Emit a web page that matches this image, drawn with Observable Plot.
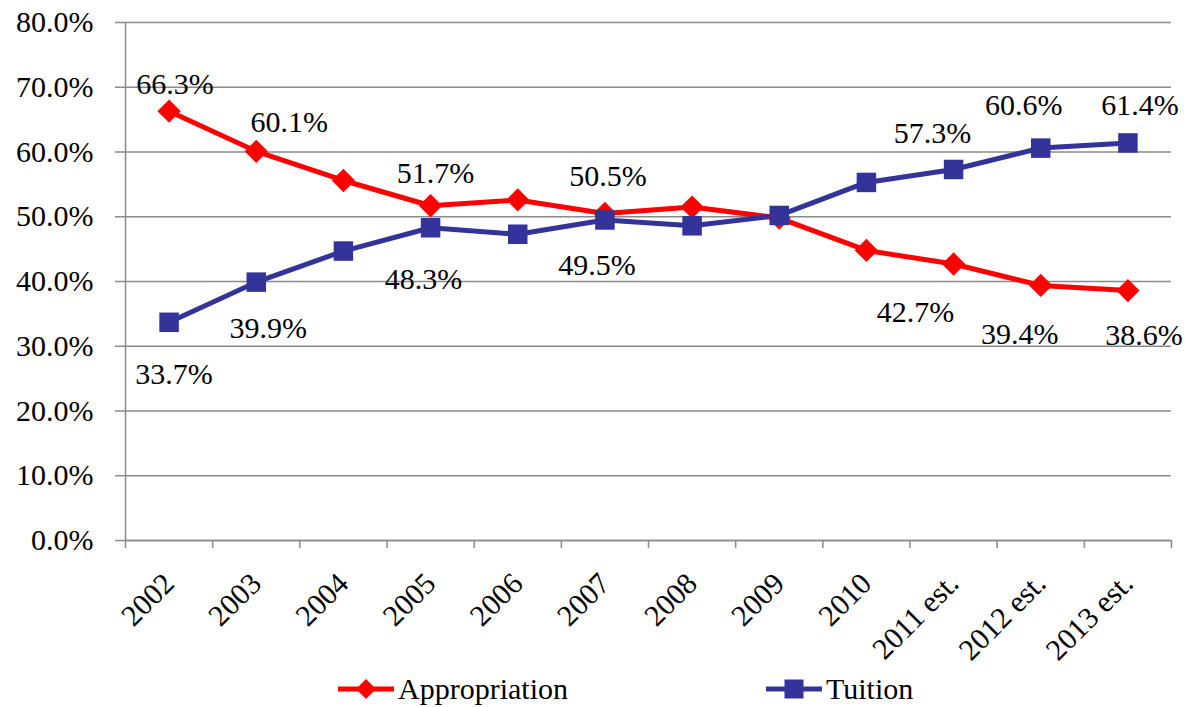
<!DOCTYPE html>
<html>
<head>
<meta charset="utf-8">
<script src="https://cdn.jsdelivr.net/npm/d3@7"></script>
<script src="https://cdn.jsdelivr.net/npm/@observablehq/plot@0.6"></script>
<style>
  html, body { margin: 0; padding: 0; background: #fff; }
  #wrap { position: relative; width: 1194px; height: 707px; font-family: "Liberation Serif", Tinos, "Times New Roman", Times, "Noto Serif", "DejaVu Serif", serif; }
  #legend { position: absolute; left: 0; top: 669px; width: 1194px; height: 38px; }
  .item { position: absolute; top: 0; height: 40px; display: flex; align-items: center; font-size: 30px; color: #000; }
  .item svg { margin-right: 4px; }
</style>
</head>
<body>
<div id="wrap">
  <div id="chart"></div>
  <div id="legend"></div>
</div>
<script>
// ---- data ----
const categories = ["2002", "2003", "2004", "2005", "2006", "2007", "2008", "2009", "2010", "2011 est.", "2012 est.", "2013 est."];
const appropriation = [66.3, 60.1, 55.6, 51.7, 52.6, 50.5, 51.5, 49.8, 44.8, 42.7, 39.4, 38.6];
const tuition = [33.7, 39.9, 44.7, 48.3, 47.3, 49.5, 48.6, 50.2, 55.3, 57.3, 60.6, 61.4];
const labelled = [0, 1, 3, 5, 9, 10, 11];
const yTicks = [0, 10, 20, 30, 40, 50, 60, 70, 80];

// label placement (pixel nudges, style only)
const apDx = [6, 33, 0, 5, 0, 3, 0, 0, 0, -38, -21, 16];
const apDy = [-27, -29, 0, -32, 0, -37, 0, 0, 0, 48, 49, 45];
const tuDx = [5, 12, 0, -7, 0, -8, 0, 0, 0, -21, -17, 12];
const tuDy = [52, 46, 0, 52, 0, 45, 0, 0, 0, -36, -43, -38];

const RED = "#ff0000";
const BLUE = "#333399";
const GRID = "#8a8a8a";
const FONT = "'Liberation Serif', Tinos, 'Times New Roman', Times, 'Noto Serif', 'DejaVu Serif', serif";

const idx = d3.range(categories.length);
const bounds = d3.range(categories.length + 1).map(k => k - 0.5);
const fmt = v => v.toFixed(1) + "%";

const labelMarks = [];
for (const i of labelled) {
  labelMarks.push(Plot.text([i], {x: d => d, y: d => appropriation[d], text: d => fmt(appropriation[d]), dx: apDx[i], dy: apDy[i], fill: "#000", fontSize: 30, fontFamily: FONT}));
  labelMarks.push(Plot.text([i], {x: d => d, y: d => tuition[d], text: d => fmt(tuition[d]), dx: tuDx[i], dy: tuDy[i], fill: "#000", fontSize: 30, fontFamily: FONT}));
}

const chart = Plot.plot({
  width: 1194,
  height: 665,
  marginLeft: 125,
  marginRight: 23,
  marginTop: 22,
  marginBottom: 125,
  style: {fontFamily: FONT, fontSize: "30px", color: "#000", background: "#fff", overflow: "visible"},
  x: {type: "linear", domain: [-0.5, 11.5], label: null},
  y: {domain: [0, 80], label: null},
  marks: [
    Plot.gridY(yTicks, {stroke: GRID, strokeOpacity: 1, strokeWidth: 1.5}),
    Plot.ruleX([-0.5], {stroke: GRID, strokeWidth: 1.5}),
    Plot.ruleY([0], {stroke: GRID, strokeWidth: 1.5}),
    Plot.axisY(yTicks, {tickSize: 10, tickPadding: 22, tickFormat: fmt, stroke: GRID, strokeWidth: 1.5, fill: "#000", fontSize: 30, fontFamily: FONT, label: null}),
    Plot.axisX(bounds, {tickSize: 8, tickFormat: () => "", stroke: GRID, strokeWidth: 1.5, label: null}),
    Plot.axisX(idx, {tickSize: 0, tickPadding: 38, tickRotate: -45, tickFormat: i => categories[i], fill: "#000", fontSize: 30, fontFamily: FONT, label: null}),
    Plot.line(idx, {x: d => d, y: d => appropriation[d], stroke: RED, strokeWidth: 5}),
    Plot.line(idx, {x: d => d, y: d => tuition[d], stroke: BLUE, strokeWidth: 5}),
    Plot.dot(idx, {x: d => d, y: d => appropriation[d], symbol: "diamond2", r: 10.5, fill: RED, stroke: "none"}),
    Plot.dot(idx, {x: d => d, y: d => tuition[d], symbol: "square", r: 11, fill: BLUE, stroke: "none"}),
    ...labelMarks
  ]
});
document.getElementById("chart").appendChild(chart);

// legend
const legend = document.getElementById("legend");
const items = [
  {name: "Appropriation", color: RED, left: 338, shape: "diamond"},
  {name: "Tuition", color: BLUE, left: 766, shape: "square"}
];
for (const it of items) {
  const div = document.createElement("div");
  div.className = "item";
  div.style.left = it.left + "px";
  const marker = it.shape === "diamond"
    ? `<path d="M28,10 L38,20 L28,30 L18,20 Z" fill="${it.color}"/>`
    : `<rect x="18.5" y="10.5" width="19" height="19" fill="${it.color}"/>`;
  div.innerHTML = `<svg width="56" height="40" viewBox="0 0 56 40"><line x1="0" y1="20" x2="56" y2="20" stroke="${it.color}" stroke-width="5"/>${marker}</svg><span>${it.name}</span>`;
  legend.appendChild(div);
}
</script>
</body>
</html>
